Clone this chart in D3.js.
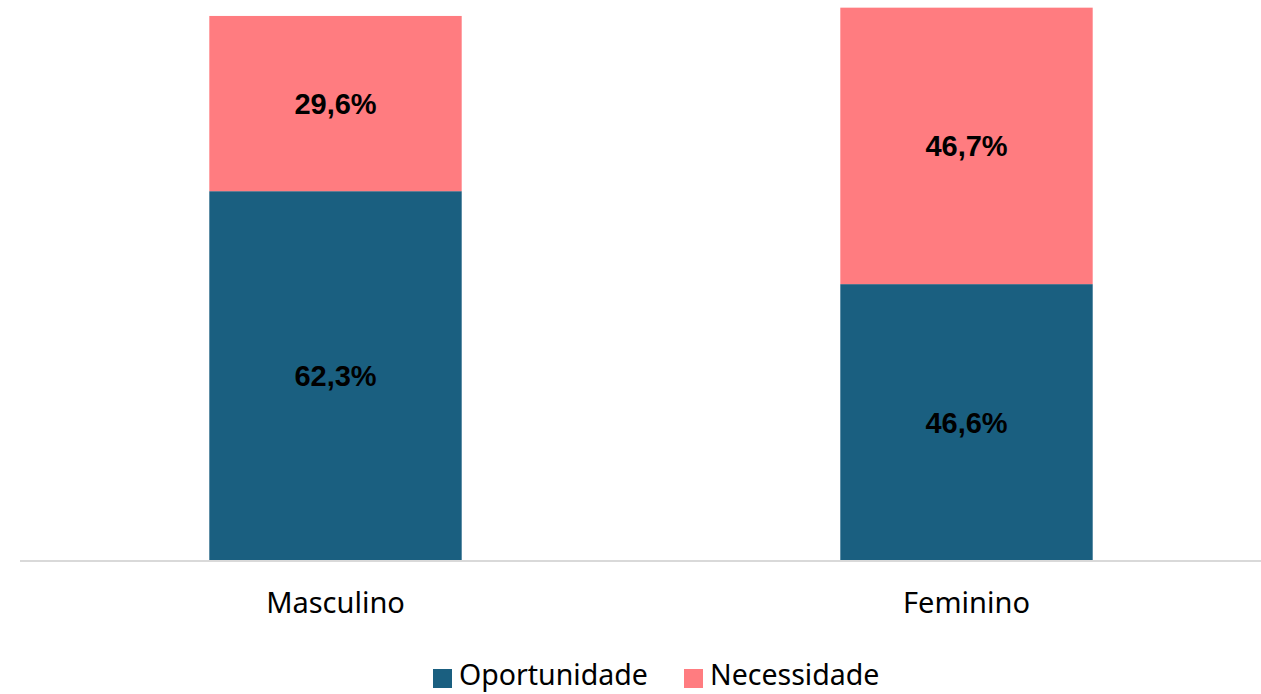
<!DOCTYPE html>
<html>
<head>
<meta charset="utf-8">
<script src="https://cdn.jsdelivr.net/npm/d3@7"></script>
<style>
  html, body { margin: 0; padding: 0; background: #fff; }
  svg { display: block; }
</style>
</head>
<body>
<svg id="chart" width="1261" height="694"></svg>
<script>
const categories   = ['Masculino', 'Feminino'];
const seriesNames  = ['Oportunidade', 'Necessidade'];
const oportunidade = [62.3, 46.6];
const necessidade  = [29.6, 46.7];

const COLORS = { Oportunidade: '#1a5f80', Necessidade: '#ff7c80' };

const WIDTH    = 1261;
const BASELINE = 560;
const PX_PER_UNIT = 5.92;

const svg = d3.select('#chart');

const rows = categories.map((c, i) => ({
    category: c,
    Oportunidade: oportunidade[i],
    Necessidade: necessidade[i]
}));

const stack  = d3.stack().keys(seriesNames);
const layers = stack(rows);

const x = d3.scaleBand()
    .domain(categories)
    .range([20, 1282])
    .paddingInner(0.6)
    .paddingOuter(0.3);

const y = d3.scaleLinear()
    .domain([0, 100])
    .range([BASELINE, BASELINE - 100 * PX_PER_UNIT]);

const fmt = v => d3.format('.1f')(v).replace('.', ',') + '%';

// bars
const layer = svg.selectAll('g.layer')
    .data(layers)
    .join('g')
    .attr('class', 'layer')
    .attr('fill', d => COLORS[d.key]);

layer.selectAll('rect')
    .data(d => d)
    .join('rect')
    .attr('x', d => x(d.data.category))
    .attr('y', d => y(d[1]))
    .attr('width', x.bandwidth())
    .attr('height', d => y(d[0]) - y(d[1]));

// value labels
layer.selectAll('text')
    .data(d => d.map(v => ({ v, key: d.key })))
    .join('text')
    .attr('x', d => x(d.v.data.category) + x.bandwidth() / 2)
    .attr('y', d => (y(d.v[0]) + y(d.v[1])) / 2)
    .attr('dy', '0.36em')
    .attr('text-anchor', 'middle')
    .attr('fill', '#000')
    .style('font-family', '"Liberation Sans", Arial, sans-serif')
    .style('font-weight', 'bold')
    .style('font-size', '29px')
    .text(d => fmt(d.v.data[d.key]));

// x axis
const xAxis = svg.append('g')
    .attr('transform', `translate(0,${BASELINE + 1})`)
    .call(d3.axisBottom(x).tickSize(0).tickPadding(31));

xAxis.select('.domain')
    .attr('d', `M20,0H${WIDTH}`)
    .attr('stroke', '#d9d9d9')
    .attr('stroke-width', 2);

xAxis.selectAll('text')
    .style('font-family', '"Noto Sans", sans-serif')
    .style('font-size', '29px')
    .attr('fill', '#000');

// legend
const legendItems = [
    { key: 'Oportunidade', x: 433 },
    { key: 'Necessidade',  x: 684 }
];

const legend = svg.append('g')
    .selectAll('g')
    .data(legendItems)
    .join('g')
    .attr('transform', d => `translate(${d.x},669)`);

legend.append('rect')
    .attr('width', 19)
    .attr('height', 19)
    .attr('fill', d => COLORS[d.key]);

legend.append('text')
    .attr('x', 26)
    .attr('y', 16)
    .attr('fill', '#000')
    .style('font-family', '"Noto Sans", sans-serif')
    .style('font-size', '28.5px')
    .text(d => d.key);
</script>
</body>
</html>
